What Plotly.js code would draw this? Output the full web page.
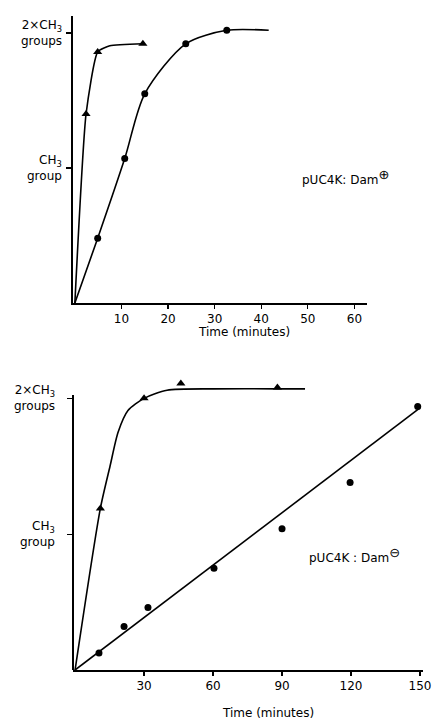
<!DOCTYPE html>
<html>
<head>
<meta charset="utf-8">
<script src="https://cdn.plot.ly/plotly-3.0.1.min.js"></script>
<style>html,body{margin:0;padding:0;background:#fff;}#chart{width:432px;height:721px;}</style>
</head>
<body>
<div id="chart"></div>
<script>
// ---- Top panel (pUC4K: Dam+) ----
var topTriX = [2.4, 4.9, 14.6];
var topTriY = [1.40, 1.86, 1.92];
var topTriCurveX = [0, 2.4, 4.9, 7.5, 14.6];
var topTriCurveY = [0, 1.40, 1.86, 1.905, 1.92];

var topCircX = [4.9, 10.7, 15.0, 23.8, 32.6];
var topCircY = [0.48, 1.07, 1.55, 1.92, 2.02];
var topCircCurveX = [0, 4.9, 10.7, 15.0, 23.8, 32.6, 41.6];
var topCircCurveY = [0, 0.48, 1.07, 1.55, 1.92, 2.02, 2.02];

var topXTicks = [10, 20, 30, 40, 50, 60];

// ---- Bottom panel (pUC4K: Dam-) ----
var botTriX = [11, 30, 46, 88];
var botTriY = [1.19, 2.00, 2.11, 2.08];
var botTriCurveX = [0, 11, 15.2, 18.7, 23, 30, 40, 60, 88, 100];
var botTriCurveY = [0, 1.19, 1.50, 1.75, 1.91, 2.00, 2.06, 2.07, 2.07, 2.07];

var botCircX = [10.4, 21.3, 31.7, 60.4, 90, 119.6, 149];
var botCircY = [0.125, 0.32, 0.46, 0.75, 1.04, 1.38, 1.94];
var botFitX = [0, 150];
var botFitY = [0, 1.93];

var botXTicks = [30, 60, 90, 120, 150];

var yTickVals = [1, 2];
var yTickText = ['CH<sub>3</sub><br>group', '2×CH<sub>3</sub><br>groups'];
var xTitle = 'Time (minutes)';
var topLabel = 'pUC4K: Dam<sup><span style="font-size:13px">⊕</span></sup>';
var botLabel = 'pUC4K : Dam<sup><span style="font-size:13px">⊖</span></sup>';

var FONT = 'DejaVu Sans, sans-serif';
var lineStyle = {color: '#000', width: 1.6};

var traces = [
  {x: topTriCurveX, y: topTriCurveY, xaxis: 'x', yaxis: 'y', mode: 'lines', line: Object.assign({shape: 'spline', smoothing: 0.5}, lineStyle), hoverinfo: 'skip', cliponaxis: false},
  {x: topTriX, y: topTriY, xaxis: 'x', yaxis: 'y', mode: 'markers', marker: {symbol: 'triangle-up', size: 8, color: '#000'}, cliponaxis: false},
  {x: topCircCurveX, y: topCircCurveY, xaxis: 'x', yaxis: 'y', mode: 'lines', line: Object.assign({shape: 'spline', smoothing: 0.8}, lineStyle), hoverinfo: 'skip', cliponaxis: false},
  {x: topCircX, y: topCircY, xaxis: 'x', yaxis: 'y', mode: 'markers', marker: {symbol: 'circle', size: 7, color: '#000'}, cliponaxis: false},

  {x: botTriCurveX, y: botTriCurveY, xaxis: 'x2', yaxis: 'y2', mode: 'lines', line: Object.assign({shape: 'spline', smoothing: 0.7}, lineStyle), hoverinfo: 'skip', cliponaxis: false},
  {x: botTriX, y: botTriY, xaxis: 'x2', yaxis: 'y2', mode: 'markers', marker: {symbol: 'triangle-up', size: 8, color: '#000'}, cliponaxis: false},
  {x: botFitX, y: botFitY, xaxis: 'x2', yaxis: 'y2', mode: 'lines', line: lineStyle, hoverinfo: 'skip', cliponaxis: false},
  {x: botCircX, y: botCircY, xaxis: 'x2', yaxis: 'y2', mode: 'markers', marker: {symbol: 'circle', size: 7, color: '#000'}, cliponaxis: false}
];

function xAxis(domain, range, ticks) {
  return {
    domain: domain, range: range, tickvals: ticks, ticktext: ticks.map(String),
    showline: true, linecolor: '#000', linewidth: 2, showgrid: false, zeroline: false,
    ticks: 'outside', ticklen: 4, tickwidth: 1.2, tickcolor: '#000',
    tickfont: {family: FONT, size: 12, color: '#000'}, fixedrange: true
  };
}
function yAxis(domain, range, showline) {
  return {
    domain: domain, range: range, tickvals: yTickVals, showticklabels: false,
    showline: showline, linecolor: '#000', linewidth: 2, showgrid: false, zeroline: false,
    ticks: 'outside', ticklen: 5, tickwidth: 1.2, tickcolor: '#000', fixedrange: true
  };
}

var annFont = {family: FONT, size: 12, color: '#000'};
var annotations = [
  {xref: 'paper', yref: 'paper', x: 244/432, y: 1 - 332/721, text: xTitle, showarrow: false, xanchor: 'center', yanchor: 'middle', font: annFont},
  {xref: 'paper', yref: 'paper', x: 268/432, y: 1 - 713/721, text: xTitle, showarrow: false, xanchor: 'center', yanchor: 'middle', font: annFont},
  {xref: 'x', yref: 'y', x: 48.3, y: 0.93, text: topLabel, showarrow: false, xanchor: 'left', yanchor: 'middle', font: annFont},
  {xref: 'x2', yref: 'y2', x: 101, y: 0.85, text: botLabel, showarrow: false, xanchor: 'left', yanchor: 'middle', font: annFont}
];
yTickVals.forEach(function (v, i) {
  annotations.push({xref: 'paper', yref: 'y', x: 64/432, y: v, text: yTickText[i], showarrow: false, xanchor: 'right', yanchor: 'middle', align: 'right', font: annFont});
  annotations.push({xref: 'paper', yref: 'y2', x: 57/432, y: v, text: yTickText[i], showarrow: false, xanchor: 'right', yanchor: 'middle', align: 'right', font: annFont});
});

var layout = {
  width: 432, height: 721,
  margin: {l: 0, r: 0, t: 0, b: 0},
  paper_bgcolor: '#fff', plot_bgcolor: '#fff',
  showlegend: false,
  xaxis: Object.assign(xAxis([73/432, 367/432], [-0.4, 62.7], topXTicks), {anchor: 'y'}),
  yaxis: Object.assign(yAxis([1 - 303/721, 1 - 16/721], [0, 2.126], true), {anchor: 'x'}),
  xaxis2: Object.assign(xAxis([73/432, 423/432], [-0.9, 151.3], botXTicks), {anchor: 'y2'}),
  yaxis2: Object.assign(yAxis([1 - 670/721, 1 - 378/721], [0, 2.15], false), {anchor: 'x2'}),
  shapes: [
    {type: 'line', xref: 'paper', yref: 'y2', x0: 73/432, x1: 73/432, y0: 0, y1: 2.025, line: {color: '#000', width: 2}}
  ],
  annotations: annotations
};

Plotly.newPlot('chart', traces, layout, {displayModeBar: false, staticPlot: true});
</script>
</body>
</html>
